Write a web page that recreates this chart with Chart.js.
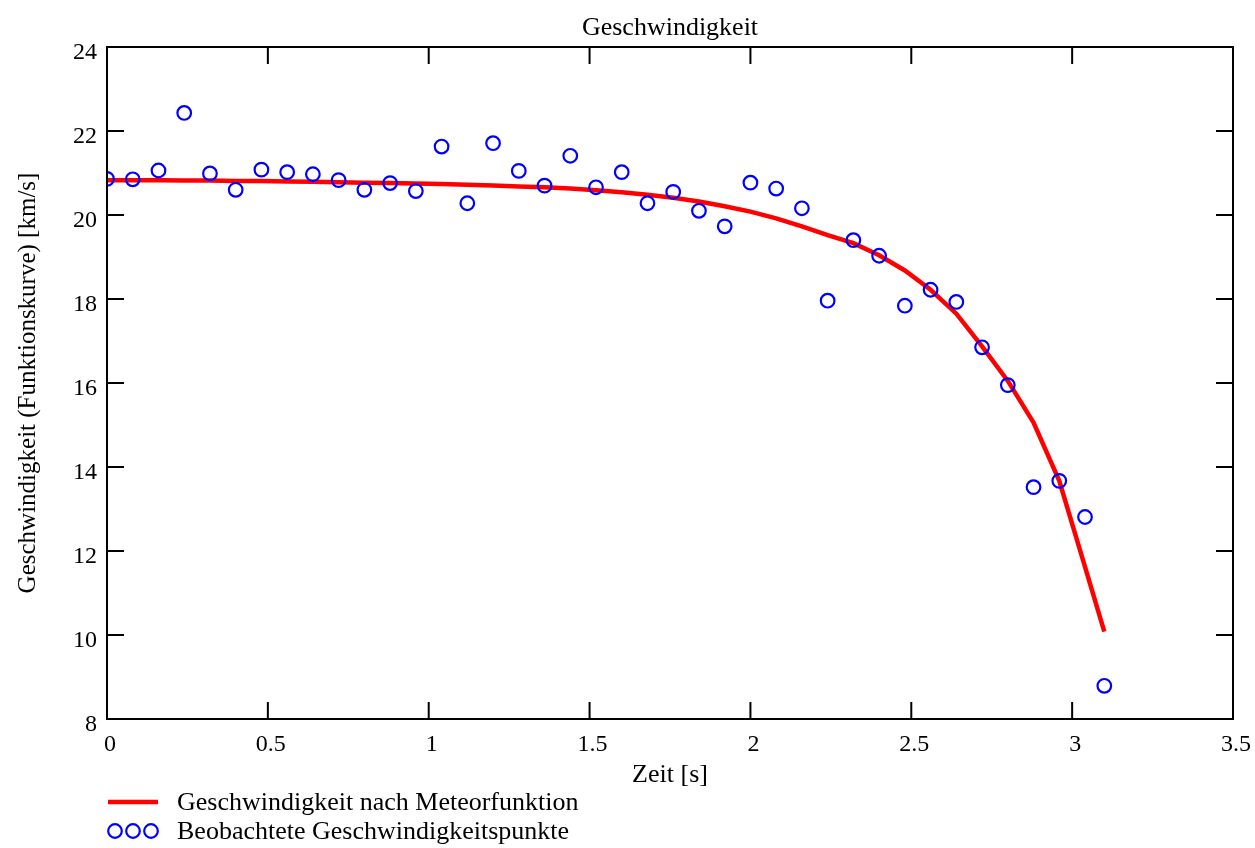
<!DOCTYPE html>
<html>
<head>
<meta charset="utf-8">
<script src="https://cdn.jsdelivr.net/npm/chart.js@4/dist/chart.umd.min.js"></script>
<style>
  html, body { margin: 0; padding: 0; background: #ffffff; }
  #wrap { width: 1255px; height: 848px; position: relative; }
</style>
</head>
<body>
<div id="wrap"><canvas id="c" width="1255" height="848"></canvas></div>
<script>
// ---- data ----
const chartTitle = "Geschwindigkeit";
const xTitle = "Zeit [s]";
const yTitle = "Geschwindigkeit (Funktionskurve) [km/s]";
const lineLabel = "Geschwindigkeit nach Meteorfunktion";
const pointLabel = "Beobachtete Geschwindigkeitspunkte";

const times = [0, 0.08, 0.16, 0.24, 0.32, 0.40, 0.48, 0.56, 0.64, 0.72,
               0.80, 0.88, 0.96, 1.04, 1.12, 1.20, 1.28, 1.36, 1.44, 1.52,
               1.60, 1.68, 1.76, 1.84, 1.92, 2.00, 2.08, 2.16, 2.24, 2.32,
               2.40, 2.48, 2.56, 2.64, 2.72, 2.80, 2.88, 2.96, 3.04, 3.10];

const modelSpeed = [20.83, 20.83, 20.83, 20.82, 20.82, 20.81, 20.81, 20.80, 20.79, 20.78,
                    20.77, 20.76, 20.75, 20.74, 20.72, 20.70, 20.68, 20.66, 20.63, 20.59,
                    20.54, 20.48, 20.41, 20.32, 20.21, 20.08, 19.92, 19.73, 19.52, 19.33,
                    19.04, 18.68, 18.22, 17.65, 16.87, 16.05, 15.06, 13.67, 11.62, 10.08];

const observedSpeed = [20.86, 20.85, 21.06, 22.43, 20.99, 20.60, 21.08, 21.02, 20.97, 20.83,
                       20.60, 20.76, 20.57, 21.63, 20.28, 21.71, 21.05, 20.70, 21.41, 20.66,
                       21.02, 20.28, 20.55, 20.10, 19.73, 20.77, 20.63, 20.16, 17.96, 19.40,
                       19.03, 17.84, 18.22, 17.93, 16.85, 15.95, 13.52, 13.67, 12.81, 8.79];

const xTicks = [0, 0.5, 1, 1.5, 2, 2.5, 3, 3.5];
const yTicks = [8, 10, 12, 14, 16, 18, 20, 22, 24];

// ---- chart ----
const FONT = "'Liberation Serif', 'Times New Roman', serif";
const AREA = { left: 107, right: 1233, top: 47, bottom: 719 };

const frameAndTicks = {
  id: 'frameAndTicks',
  afterDatasetsDraw(chart) {
    const ctx = chart.ctx;
    const xs = chart.scales.x, ys = chart.scales.y;
    const L = xs.left, R = xs.right, T = ys.top, B = ys.bottom;
    const len = 17;
    ctx.save();
    ctx.strokeStyle = '#000000';
    ctx.lineWidth = 2;
    ctx.beginPath();
    ctx.rect(L, T, R - L, B - T);
    ctx.stroke();
    ctx.beginPath();
    xTicks.forEach(v => {
      const px = xs.getPixelForValue(v);
      ctx.moveTo(px, B); ctx.lineTo(px, B - len);
      ctx.moveTo(px, T); ctx.lineTo(px, T + len);
    });
    yTicks.forEach(v => {
      const py = ys.getPixelForValue(v);
      ctx.moveTo(L, py); ctx.lineTo(L + len, py);
      ctx.moveTo(R, py); ctx.lineTo(R - len, py);
    });
    ctx.stroke();
    ctx.restore();
  }
};

const customLegend = {
  id: 'customLegend',
  afterDraw(chart) {
    const ctx = chart.ctx;
    const dsLine = chart.data.datasets[0];
    const dsPts = chart.data.datasets[1];
    ctx.save();
    ctx.font = "26px " + FONT;
    ctx.fillStyle = '#000000';
    ctx.textBaseline = 'middle';
    ctx.textAlign = 'left';
    ctx.strokeStyle = dsLine.borderColor;
    ctx.lineWidth = dsLine.borderWidth;
    ctx.beginPath();
    ctx.moveTo(108, 802); ctx.lineTo(158, 802);
    ctx.stroke();
    ctx.fillText(dsLine.label, 177, 803);
    ctx.strokeStyle = dsPts.pointBorderColor;
    ctx.lineWidth = dsPts.pointBorderWidth;
    [115, 133, 151].forEach(cx => {
      ctx.beginPath();
      ctx.arc(cx, 831, dsPts.pointRadius, 0, Math.PI * 2);
      ctx.stroke();
    });
    ctx.fillText(dsPts.label, 177, 832);
    ctx.restore();
  }
};

new Chart(document.getElementById('c'), {
  type: 'scatter',
  data: {
    datasets: [
      {
        label: lineLabel,
        data: times.map((t, i) => ({ x: t, y: modelSpeed[i] })),
        showLine: true,
        borderColor: '#ff0000',
        borderWidth: 4.5,
        pointRadius: 0,
        tension: 0,
        order: 2
      },
      {
        label: pointLabel,
        data: times.map((t, i) => ({ x: t, y: observedSpeed[i] })),
        showLine: false,
        pointStyle: 'circle',
        pointRadius: 6.8,
        pointBorderWidth: 2.2,
        pointBorderColor: '#0000ff',
        pointBackgroundColor: 'rgba(0,0,0,0)',
        order: 1
      }
    ]
  },
  options: {
    responsive: false,
    animation: false,
    devicePixelRatio: 1,
    layout: { padding: { left: 0, right: 1255 - AREA.right, top: 0, bottom: 0 } },
    plugins: {
      legend: { display: false },
      tooltip: { enabled: false },
      title: {
        display: true,
        text: chartTitle,
        fullSize: false,
        color: '#000000',
        font: { family: FONT, size: 26, weight: 'normal' },
        padding: { top: 12.2, bottom: 3.6 }
      }
    },
    scales: {
      x: {
        type: 'linear',
        min: 0, max: 3.5,
        afterFit(s) { s.height = 848 - AREA.bottom; s.paddingLeft = 0; s.paddingRight = 0; },
        afterBuildTicks(s) { s.ticks = xTicks.map(v => ({ value: v })); },
        grid: { display: false, drawTicks: false },
        border: { display: false },
        ticks: {
          color: '#000000',
          padding: 11,
          labelOffset: 3,
          maxRotation: 0,
          font: { family: FONT, size: 24 },
          callback: v => String(v)
        },
        title: {
          display: true,
          text: xTitle,
          color: '#000000',
          font: { family: FONT, size: 26 },
          padding: { top: 0, bottom: 57.4 }
        }
      },
      y: {
        type: 'linear',
        min: 8, max: 24,
        afterFit(s) { s.width = AREA.left; s.paddingTop = 0; s.paddingBottom = 0; },
        afterBuildTicks(s) { s.ticks = yTicks.map(v => ({ value: v })); },
        grid: { display: false, drawTicks: false },
        border: { display: false },
        ticks: {
          color: '#000000',
          padding: 10,
          labelOffset: 6,
          font: { family: FONT, size: 24 },
          callback: v => String(v)
        },
        title: {
          display: true,
          text: yTitle,
          color: '#000000',
          font: { family: FONT, size: 25 },
          padding: { top: 13, bottom: 0 }
        }
      }
    }
  },
  plugins: [frameAndTicks, customLegend]
});
</script>
</body>
</html>
